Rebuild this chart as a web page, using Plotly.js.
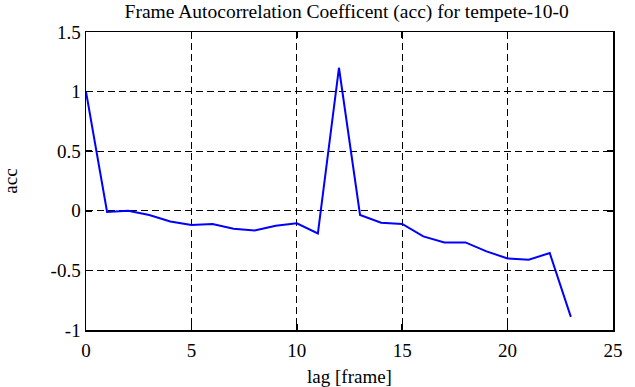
<!DOCTYPE html>
<html><head><meta charset="utf-8">
<script src="https://cdn.plot.ly/plotly-3.0.1.min.js"></script>
<style>html,body{margin:0;padding:0;background:#fff}#chart{width:635px;height:387px}</style>
</head><body><div id="chart"></div>
<script>
var lags = [0,1,2,3,4,5,6,7,8,9,10,11,12,13,14,15,16,17,18,19,20,21,22,23];
var acc = [1.0,-0.01,0.0,-0.035,-0.09,-0.12,-0.11,-0.15,-0.165,-0.125,-0.105,-0.19,1.2,-0.035,-0.1,-0.11,-0.215,-0.265,-0.265,-0.34,-0.4,-0.41,-0.355,-0.89];
var xTicks = [0,5,10,15,20,25];
var yTicks = [-1,-0.5,0,0.5,1,1.5];
var yTickText = ['-1','-0.5','0','0.5','1','1.5'];

var fam = 'Liberation Serif, Times New Roman, serif';
var font = {family:fam, size:19, color:'#000'};
var trace = {x:lags, y:acc, type:'scatter', mode:'lines', line:{color:'#0000ff', width:2}, hoverinfo:'skip'};
var axisCommon = {showline:true, linecolor:'#000', linewidth:1.5, mirror:'ticks', ticks:'inside', ticklen:6, tickcolor:'#000', tickwidth:1.5,
  showgrid:true, gridcolor:'#000', gridwidth:1, griddash:'7px,4px', zeroline:false, tickfont:font};
var layout = {
  width:635, height:387, margin:{l:86,r:22,t:32,b:57},
  paper_bgcolor:'#fff', plot_bgcolor:'#fff', showlegend:false,
  title:{text:'Frame Autocorrelation Coefficent (acc) for tempete-10-0', font:{family:fam,size:19.5,color:'#000'}, x:0.546, xanchor:'center', y:0.972, yanchor:'middle'},
  xaxis:Object.assign({}, axisCommon, {range:[0,25], tickvals:xTicks, ticktext:xTicks.map(String), ticklabelstandoff:3,
    title:{text:'lag [frame]', font:font, standoff:10}}),
  yaxis:Object.assign({}, axisCommon, {range:[-1,1.5], tickvals:yTicks, ticktext:yTickText,
    title:{text:'acc', font:font, standoff:28}})
};
Plotly.newPlot('chart',[trace],layout,{staticPlot:true});
</script></body></html>
